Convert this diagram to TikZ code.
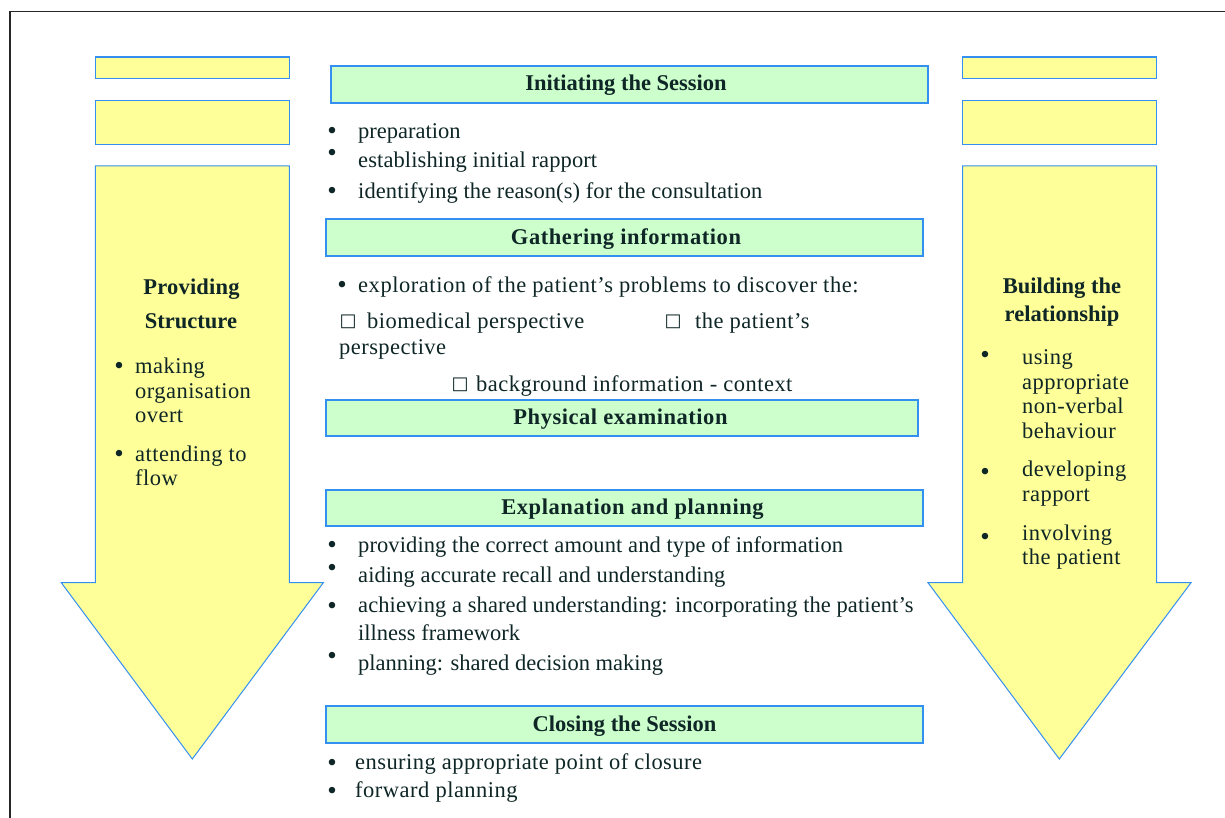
\documentclass[tikz,border=0pt]{standalone}
\usepackage{fontspec}
\setmainfont{Liberation Serif}
\newfontfamily\symfont{DejaVu Sans}
\newcommand{\lsp}[1]{\addfontfeatures{LetterSpace=#1}}
\definecolor{yel}{HTML}{FFFF99}
\definecolor{grn}{HTML}{CCFFCC}
\definecolor{bord}{HTML}{3390F0}
\definecolor{ink}{HTML}{0F2626}
\begin{document}
\begin{tikzpicture}[x=1pt,y=-1pt,
  font=\fontsize{22.5}{27}\selectfont,
  every node/.style={text=ink},
  head/.style={draw=bord, fill=grn, line width=1.2pt, inner sep=0, text height=17pt, text depth=4pt, font=\fontsize{22.5}{27}\selectfont\bfseries},
  txt/.style={anchor=base west, inner sep=0, yshift=-1.5pt},
  ctxt/.style={anchor=base, inner sep=0, font=\fontsize{22.5}{27}\selectfont\bfseries},
  bul/.style={inner sep=0, anchor=center, yshift=-2pt, font=\fontsize{27}{27}\selectfont},
  sq/.style={inner sep=0, anchor=center, font=\symfont\fontsize{18}{18}\selectfont},
  ybox/.style={draw=bord, fill=yel, line width=1.2pt}]
\useasboundingbox (0,0) rectangle (1225,818);
\fill[white] (0,0) rectangle (1225,818);
% frame
\draw[line width=1.6pt, black!85] (1225,11.5) -- (10,11.5) -- (10,818);

% left column
\draw[ybox] (95.3,57) rectangle (289.3,78.7);
\draw[ybox] (95.3,100.3) rectangle (289.3,144.7);
\draw[ybox, line width=1pt] (95.3,166) -- (289.3,166) -- (289.3,582.7) -- (323.3,582.7) -- (192.3,759) -- (61.3,582.7) -- (95.3,582.7) -- cycle;
% right column
\draw[ybox] (962.7,57) rectangle (1156.7,78.7);
\draw[ybox] (962.7,100.3) rectangle (1156.7,144.7);
\draw[ybox, line width=1pt] (962.7,166) -- (1156.7,166) -- (1156.7,582.7) -- (1191,582.7) -- (1059.3,759) -- (928,582.7) -- (962.7,582.7) -- cycle;

% headings
\node[head, minimum width=597, minimum height=37] (init) at (629.5,84.5) {Initiating the Session\hspace*{7pt}};
\node[head, minimum width=597, minimum height=37] (gath) at (624.5,237.5) {\lsp{2.5}\hspace*{3pt}Gathering information};
\node[head, minimum width=592, minimum height=36] (phys) at (622,418) {\lsp{2.4}Physical examination\hspace*{3pt}};
\node[head, minimum width=597, minimum height=36] (expl) at (624.5,508) {\lsp{2.6}\hspace*{16pt}Explanation and planning};
\node[head, minimum width=597, minimum height=37] (clos) at (624.5,724.5) {Closing the Session};

% initiating bullets
\node[bul] (b1) at (332,131) {•};
\node[bul] (b2) at (332,153) {•};
\node[bul] (b3) at (332,191) {•};
\node[txt] (t1) at (358,137) {preparation};
\node[txt] (t2) at (358,166) {\lsp{0.5}establishing initial rapport};
\node[txt] (t3) at (358,197) {\lsp{0.4}identifying the reason(s) for the consultation};

% gathering
\node[bul] (b4) at (342,285) {•};
\node[txt] (t4) at (358,291) {\lsp{2.4}exploration of the patient’s problems to discover the:};
\node[sq] (s1) at (348,322) {□};
\node[txt] (t5) at (367,327) {\lsp{2}biomedical perspective};
\node[sq] (s2) at (673,322) {□};
\node[txt] (t6) at (695,327) {\lsp{2}the patient’s};
\node[txt] (t7) at (339,353) {\lsp{2}perspective};
\node[sq] (s3) at (460,385) {□};
\node[txt] (t8) at (476,390) {\lsp{2.1}background information - context};

% explanation
\node[bul] (b5) at (332,545) {•};
\node[bul] (b6) at (332,568) {•};
\node[bul] (b7) at (332,606) {•};
\node[bul] (b8) at (332,656) {•};
\node[txt] (t9) at (358,551) {\lsp{0.45}providing the correct amount and type of information};
\node[txt] (t10) at (358,581) {\lsp{0.45}aiding accurate recall and understanding};
\node[txt] (t11) at (358,611) {\lsp{0.4}achieving a shared understanding: incorporating the patient’s};
\node[txt] (t12) at (358,639) {illness framework};
\node[txt] (t13) at (358,669) {planning: shared decision making};

% closing
\node[bul] (b9) at (332,763) {•};
\node[bul] (b10) at (332,791) {•};
\node[txt] (t14) at (355,768) {\lsp{2}ensuring appropriate point of closure};
\node[txt] (t15) at (355,796) {\lsp{2.2}forward planning};

% left arrow text
\node[ctxt] (l1) at (191.5,294) {\lsp{1}Providing};
\node[ctxt] (l2) at (191,328) {Structure};
\node[bul] (lb1) at (119,366) {•};
\node[bul] (lb2) at (119,454) {•};
\node[txt] (l3) at (135,372) {\lsp{2}making};
\node[txt] (l4) at (135,397) {\lsp{2}organisation};
\node[txt] (l5) at (135,421) {\lsp{2}overt};
\node[txt] (l6) at (135,460) {\lsp{2}attending to};
\node[txt] (l7) at (135,484) {\lsp{2}flow};

% right arrow text
\node[ctxt] (r1) at (1062,293) {Building the};
\node[ctxt] (r2) at (1062,321) {relationship};
\node[bul] (rb1) at (985,355) {•};
\node[bul] (rb2) at (985,472) {•};
\node[bul] (rb3) at (985,537) {•};
\node[txt] (r3) at (1022,363) {\lsp{2}using};
\node[txt] (r4) at (1022,388) {\lsp{2}appropriate};
\node[txt] (r5) at (1022,412) {\lsp{2}non-verbal};
\node[txt] (r6) at (1022,437) {\lsp{2}behaviour};
\node[txt] (r7) at (1022,475) {\lsp{2}developing};
\node[txt] (r8) at (1022,500) {\lsp{2}rapport};
\node[txt] (r9) at (1022,539) {\lsp{2}involving};
\node[txt] (r10) at (1022,563) {\lsp{2}the patient};
\end{tikzpicture}
\end{document}
